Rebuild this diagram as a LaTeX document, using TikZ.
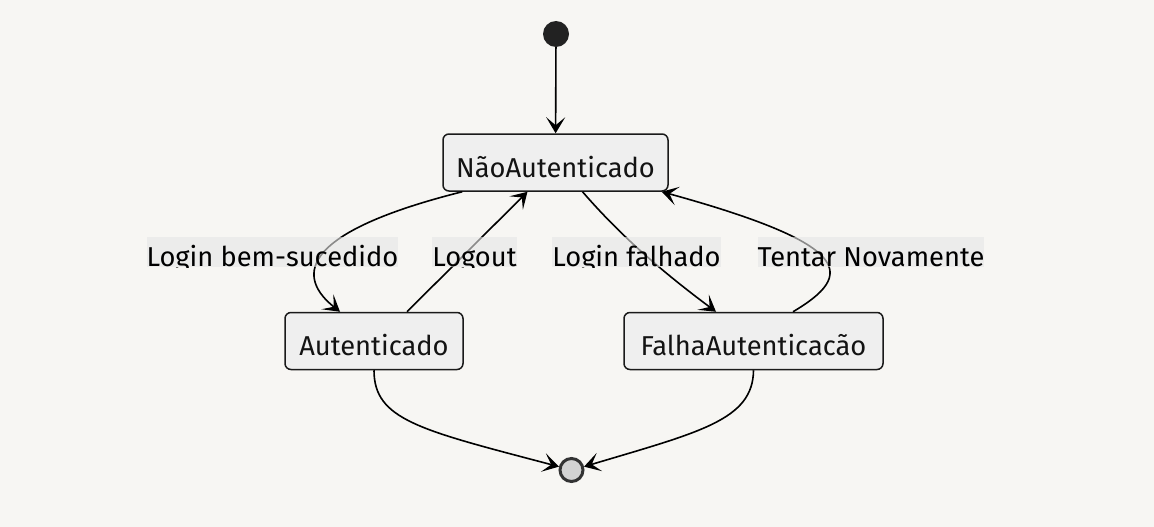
\documentclass[tikz,border=0pt]{standalone}
\usepackage{fontspec}
\setmainfont{Fira Sans}
\usetikzlibrary{arrows.meta,calc}
\definecolor{bgc}{HTML}{F7F6F3}
\definecolor{nodefill}{HTML}{EFEFEF}
\definecolor{strokec}{HTML}{1A1A1A}
\definecolor{textc}{HTML}{131313}
\definecolor{lblbg}{HTML}{E6E6E6}
\definecolor{startc}{HTML}{222222}
\definecolor{endin}{HTML}{D3D3D3}
\definecolor{endring}{HTML}{333333}
\begin{document}
\begin{tikzpicture}[x=1pt,y=-1pt,
  statebox/.style={draw=strokec, line width=1.5pt, fill=nodefill, rounded corners=6pt,
    inner sep=0pt, minimum height=57pt, text height=29pt, text depth=0pt,
    font=\fontsize{27.3}{31}\selectfont, text=textc},
  edge/.style={draw=black, line width=1.6pt, -{Stealth[length=16pt,width=19pt,inset=8pt]}},
  lbl/.style={fill=lblbg, fill opacity=0.6, text opacity=1, inner xsep=0pt, inner ysep=0pt,
    text height=29pt, text depth=1pt, font=\fontsize{27.3}{31}\selectfont, text=black}]
\fill[bgc] (0,0) rectangle (1154,527);
\useasboundingbox (0,0) rectangle (1154,527);

\node[circle, fill=startc, inner sep=0pt, minimum size=26pt] (start) at (556,34) {};
\node[statebox, minimum width=225pt] (na) at (555.5,162.5) {NãoAutenticado};
\node[statebox, minimum width=178pt] (au) at (374,341) {Autenticado};
\node[statebox, minimum width=259pt] (fa) at (753.5,341) {FalhaAutenticacão};
\node[circle, draw=endring, line width=3pt, fill=endin, inner sep=0pt, minimum size=23pt] (end) at (571.5,470) {};

\draw[edge] (start) -- (na);
\draw[edge] ($(na.south west)+(20,0)$) .. controls (290,235) and (300,280) .. ($(au.north)+(-34,0)$);
\draw[edge] ($(au.north)+(33,0)$) -- ($(na.south)+(-28,0)$);
\draw[edge] ($(na.south)+(27,0)$) .. controls (620,235) and (660,270) .. ($(fa.north)+(-37.5,0)$);
\draw[edge] ($(fa.north)+(39.5,0)$) .. controls (855,275) and (855,245) .. ($(na.south east)+(-7,0)$);
\draw[edge] (au.south) .. controls (374,420) and (420,430) .. (end.165);
\draw[edge] (fa.south) .. controls (753,420) and (700,432) .. (end.15);

\begin{scope}
\clip (0,0) rectangle (1154,267);
\node[lbl] (l1) at (272.5,252) {Login bem-sucedido};
\node[lbl] (l2) at (474.5,252) {Logout};
\node[lbl] (l3) at (636.5,252) {Login falhado};
\node[lbl] (l4) at (871,252) {Tentar Novamente};
\end{scope}
\end{tikzpicture}
\end{document}
